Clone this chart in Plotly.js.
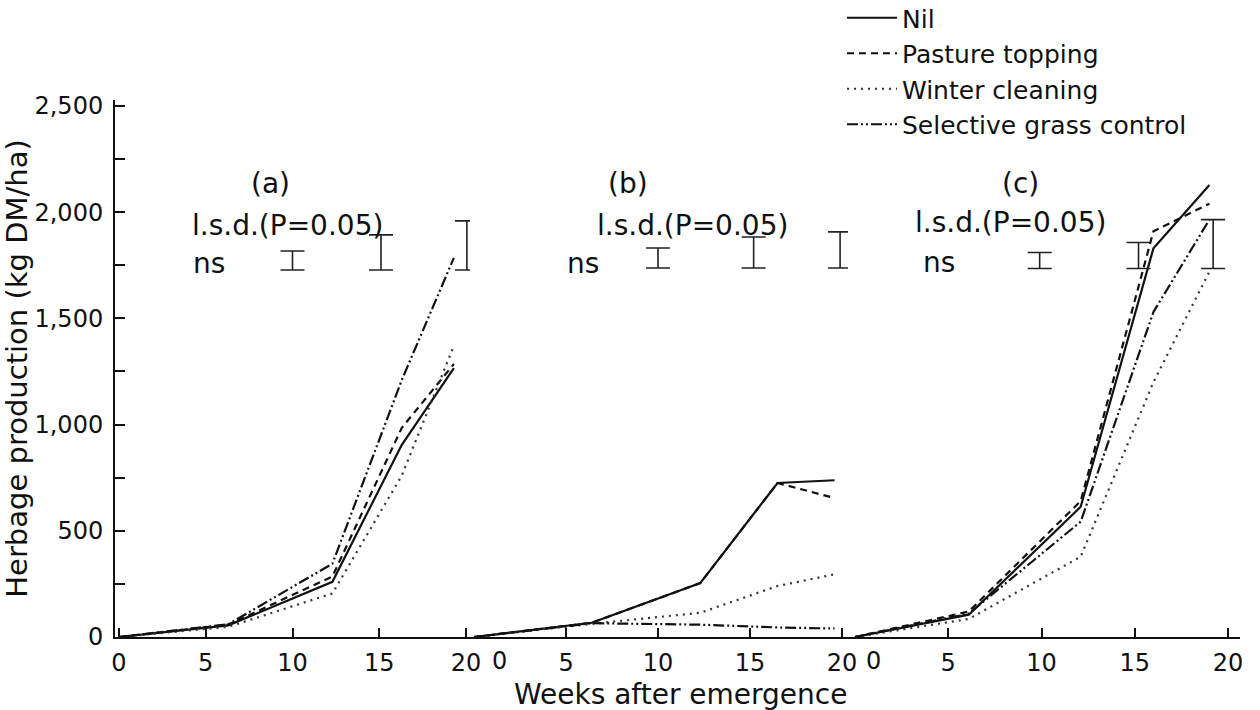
<!DOCTYPE html>
<html><head><meta charset="utf-8">
<script src="https://cdn.plot.ly/plotly-3.0.1.min.js"></script>
<style>html,body{margin:0;padding:0;background:#fff}#chart{width:1260px;height:710px}</style>
</head><body><div id="chart"></div>
<script>
// ---- data ----
const seriesNames = ['Nil', 'Pasture topping', 'Winter cleaning', 'Selective grass control'];
const panelLabels = ['(a)', '(b)', '(c)'];

const weeksA = [0, 6.3, 12.3, 16.3, 19.3];
const nilA = [0, 55, 260, 905, 1266];
const pastureA = [0, 58, 285, 985, 1285];
const winterA = [0, 48, 205, 760, 1370];
const selectiveA = [0, 60, 345, 1210, 1785];

const weeksB = [0, 6.4, 12.3, 16.5, 19.6];
const nilB = [0, 67, 254, 725, 738];
const pastureB = [0, 67, 254, 725, 654];
const winterB = [0, 62, 114, 240, 295];
const selectiveB = [0, 65, 58, 45, 40];

const weeksC = [0, 6.1, 12.1, 16.0, 19.0];
const nilC = [0, 105, 613, 1830, 2128];
const pastureC = [0, 120, 640, 1910, 2040];
const winterC = [0, 85, 378, 1200, 1720];
const selectiveC = [0, 110, 543, 1530, 1965];

// l.s.d. bars (P=0.05): weeks, bar length, bar bottom
const lsdWeeksA = [10.0, 15.1, 20.05];
const lsdA = [89, 165, 231];
const lsdBaseA = 1728;
const lsdWeeksB = [10.0, 15.2, 19.9];
const lsdB = [94, 146, 170];
const lsdBaseB = 1737;
const lsdWeeksC = [9.9, 15.2, 19.2];
const lsdC = [75, 122, 230];
const lsdBaseC = 1735;
const lsdText = 'l.s.d.(P=0.05)';
const nsText = 'ns';

const xTickValsA = [0, 5, 10, 15, 20];
const xTickTextA = ['0', '5', '10', '15', '20'];
const xTickValsBC = [5, 10, 15, 20];
const xTickTextBC = ['5', '10', '15', '20'];
const zeroLabel = '0';
const yTickVals = [0, 500, 1000, 1500, 2000, 2500];
const yTickText = ['0', '500', '1,000', '1,500', '2,000', '2,500'];
const xTitle = 'Weeks after emergence';
const yTitle = 'Herbage production (kg DM/ha)';

// ---- styling ----
const INK = '#111';
const styles = [
  {color: INK, width: 2.2, dash: 'solid'},
  {color: INK, width: 2.2, dash: '7px,5px'},
  {color: '#333', width: 2.2, dash: '2px,5px'},
  {color: INK, width: 2.2, dash: '11px,3px,2px,3px,2px,3px'}
];

const panels = [
  {xa: 'x',  weeks: weeksA, ys: [nilA, pastureA, winterA, selectiveA], lw: lsdWeeksA, l: lsdA, base: lsdBaseA},
  {xa: 'x2', weeks: weeksB, ys: [nilB, pastureB, winterB, selectiveB], lw: lsdWeeksB, l: lsdB, base: lsdBaseB},
  {xa: 'x3', weeks: weeksC, ys: [nilC, pastureC, winterC, selectiveC], lw: lsdWeeksC, l: lsdC, base: lsdBaseC}
];

const traces = [];
panels.forEach((p, pi) => {
  p.ys.forEach((yv, si) => {
    traces.push({
      type: 'scatter', mode: 'lines', x: p.weeks, y: yv, xaxis: p.xa, yaxis: 'y',
      name: seriesNames[si], legendgroup: seriesNames[si], showlegend: pi === 0,
      line: styles[si], hoverinfo: 'skip'
    });
  });
  traces.push({
    type: 'scatter', mode: 'markers', xaxis: p.xa, yaxis: 'y', showlegend: false, hoverinfo: 'skip',
    x: p.lw, y: p.l.map(v => p.base + v / 2),
    marker: {size: 2, color: 'rgba(0,0,0,0)'},
    error_y: {type: 'data', symmetric: true, array: p.l.map(v => v / 2), visible: true,
              color: '#222', thickness: 1.6, width: 12}
  });
});

// plot area in pixels
const L = 115, R = 1240, T = 100, B = 637;
const px = v => (v - L) / (R - L);
const py = v => (B - v) / (B - T);

const axisCommon = {
  showline: true, linewidth: 2, linecolor: INK, showgrid: false, zeroline: false,
  ticks: 'inside', ticklen: 9, tickwidth: 2, tickcolor: INK,
  tickmode: 'array', tickfont: {size: 24, color: INK},
  ticklabelstandoff: 3, anchor: 'y', fixedrange: true
};

const layout = {
  width: 1260, height: 710,
  margin: {l: L, r: 1260 - R, t: T, b: 710 - B, pad: 0, autoexpand: false},
  paper_bgcolor: '#fff', plot_bgcolor: '#fff',
  font: {family: 'DejaVu Sans', color: INK, size: 24},
  showlegend: true,
  legend: {x: px(842), y: py(-5), xanchor: 'left', yanchor: 'top', font: {size: 25, color: INK},
           itemwidth: 50, bgcolor: 'rgba(0,0,0,0)', borderwidth: 0, tracegroupgap: 0},
  xaxis: Object.assign({}, axisCommon, {domain: [0, px(470)], range: [-0.23, 20.23],
                                        tickvals: xTickValsA, ticktext: xTickTextA}),
  xaxis2: Object.assign({}, axisCommon, {domain: [px(470), px(848)], range: [-0.22, 20.33],
                                         tickvals: xTickValsBC, ticktext: xTickTextBC}),
  xaxis3: Object.assign({}, axisCommon, {domain: [px(848), 1], range: [-0.375, 20.64],
                                         tickvals: xTickValsBC, ticktext: xTickTextBC}),
  yaxis: {
    domain: [0, 1], range: [0, 2528], anchor: 'x', fixedrange: true,
    showline: true, linewidth: 2, linecolor: INK, showgrid: false, zeroline: false,
    ticks: 'inside', ticklen: 10, tickwidth: 2, tickcolor: INK,
    tickmode: 'array', tickvals: yTickVals, ticktext: yTickText, tickfont: {size: 24, color: INK},
    ticklabelstandoff: 5,
    minor: {dtick: 250, tick0: 0, ticks: 'inside', ticklen: 10, tickwidth: 2, tickcolor: INK, showgrid: false},
    title: {text: yTitle, font: {size: 29, color: INK}, standoff: 4}
  },
  annotations: [
    {text: panelLabels[0], x: px(270), y: py(183)},
    {text: panelLabels[1], x: px(628), y: py(183)},
    {text: panelLabels[2], x: px(1020), y: py(183)},
    {text: lsdText, x: px(190), y: py(225), xanchor: 'left'},
    {text: lsdText, x: px(595), y: py(225), xanchor: 'left'},
    {text: lsdText, x: px(913), y: py(222), xanchor: 'left'},
    {text: nsText, x: px(191), y: py(263), xanchor: 'left'},
    {text: nsText, x: px(565), y: py(263), xanchor: 'left'},
    {text: nsText, x: px(921), y: py(262), xanchor: 'left'},
    {text: zeroLabel, x: px(499), y: py(661), font: {size: 24, color: INK}},
    {text: zeroLabel, x: px(873), y: py(661), font: {size: 24, color: INK}},
    {text: xTitle, x: px(680), y: py(694), font: {size: 28, color: INK}}
  ].map(a => Object.assign({xref: 'paper', yref: 'paper', showarrow: false, xanchor: 'center',
                             yanchor: 'middle', font: {size: 28, color: INK}}, a))
};

Plotly.newPlot('chart', traces, layout, {staticPlot: true, displayModeBar: false});
</script></body></html>
